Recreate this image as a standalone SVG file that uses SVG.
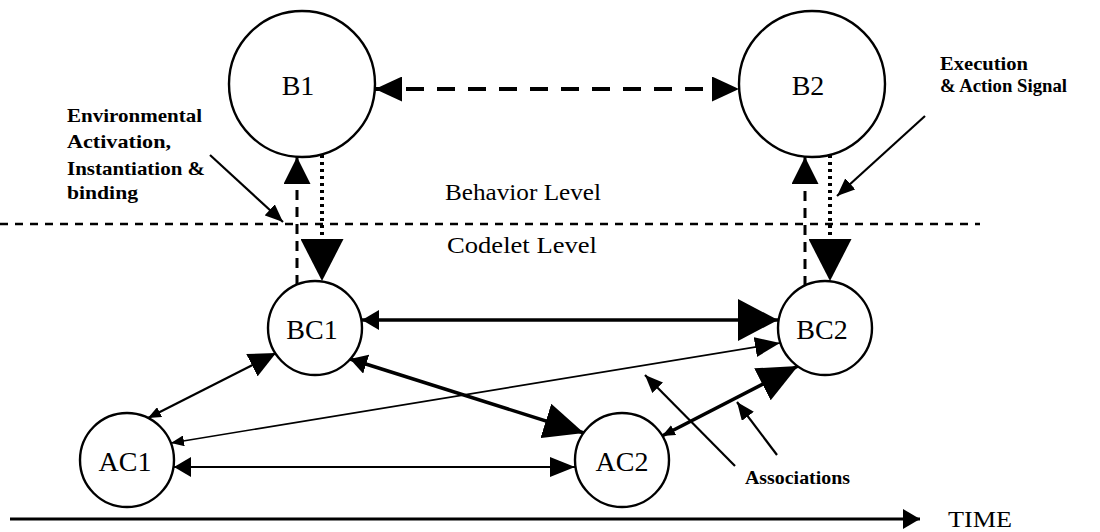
<svg xmlns="http://www.w3.org/2000/svg" width="1100" height="532" viewBox="0 0 1100 532">
  <style>
    .node { fill: #fff; stroke: #000; stroke-width: 2.4; }
    .lbl { font-family: "Liberation Serif", "Times New Roman", serif; font-size: 28px; fill: #000; text-anchor: middle; }
    .note { font-family: "Liberation Serif", "Times New Roman", serif; font-weight: bold; font-size: 19px; fill: #000; }
    .level { font-family: "Liberation Serif", "Times New Roman", serif; font-size: 23px; fill: #000; }
    .ln { fill: none; stroke: #000; }
    .thick { stroke-width: 3.5; }
    .mid { stroke-width: 2.2; }
    .thin { stroke-width: 1.6; }
    .axis { stroke-width: 3; }
    .dash-b { stroke-width: 4; stroke-dasharray: 18 13; }
    .dash-v { stroke-width: 3; stroke-dasharray: 10 7; }
    .dot-v { stroke-width: 4; stroke-dasharray: 3 4; }
    .dash-h { stroke-width: 2.5; stroke-dasharray: 8 7; }
  </style>
  <defs>
    <!-- filled arrowheads in several sizes; each works as start or end -->
    <marker id="hxs" markerUnits="userSpaceOnUse" markerWidth="13" markerHeight="11" refX="13" refY="5.5" orient="auto-start-reverse"><path d="M0,0 L13,5.5 L0,11z"/></marker>
    <marker id="hs" markerUnits="userSpaceOnUse" markerWidth="17" markerHeight="20" refX="17" refY="10" orient="auto-start-reverse"><path d="M0,0 L17,10 L0,20z"/></marker>
    <marker id="hm" markerUnits="userSpaceOnUse" markerWidth="25" markerHeight="20" refX="25" refY="10" orient="auto-start-reverse"><path d="M0,0 L25,10 L0,20z"/></marker>
    <marker id="hb" markerUnits="userSpaceOnUse" markerWidth="27" markerHeight="25" refX="27" refY="12.5" orient="auto-start-reverse"><path d="M0,0 L27,12.5 L0,25z"/></marker>
    <marker id="hup" markerUnits="userSpaceOnUse" markerWidth="27" markerHeight="27" refX="27" refY="13.5" orient="auto-start-reverse"><path d="M0,0 L27,13.5 L0,27z"/></marker>
    <marker id="hl" markerUnits="userSpaceOnUse" markerWidth="40" markerHeight="36" refX="40" refY="18" orient="auto-start-reverse"><path d="M0,0 L40,18 L0,36z"/></marker>
    <marker id="hxl" markerUnits="userSpaceOnUse" markerWidth="40" markerHeight="42" refX="40" refY="21" orient="auto-start-reverse"><path d="M0,0 L40,21 L0,42z"/></marker>
    <marker id="hdn" markerUnits="userSpaceOnUse" markerWidth="42" markerHeight="43" refX="42" refY="21.5" orient="auto-start-reverse"><path d="M0,0 L42,21.5 L0,43z"/></marker>
    <marker id="hp" markerUnits="userSpaceOnUse" markerWidth="18" markerHeight="15" refX="18" refY="7.5" orient="auto-start-reverse"><path d="M0,0 L18,7.5 L0,15z"/></marker>
  </defs>

  <!-- level separator -->
  <line class="ln dash-h" x1="0" y1="224" x2="980" y2="224"/>
  <text class="level" x="445" y="200" textLength="156" lengthAdjust="spacingAndGlyphs">Behavior Level</text>
  <text class="level" x="447" y="253" textLength="150" lengthAdjust="spacingAndGlyphs">Codelet Level</text>

  <!-- time axis -->
  <line class="ln axis" x1="10" y1="519" x2="920" y2="519" marker-end="url(#hs)"/>
  <text class="level" x="948" y="527" textLength="64" lengthAdjust="spacingAndGlyphs">TIME</text>

  <g id="connectors">
    <!-- behavior to behavior -->
    <line class="ln dash-b" x1="375" y1="89" x2="739" y2="89" marker-start="url(#hb)" marker-end="url(#hb)"/>
    <!-- B1 / BC1 vertical links -->
    <line class="ln dash-v" x1="297" y1="285" x2="297" y2="157" marker-end="url(#hup)"/>
    <line class="ln dot-v" x1="322" y1="155" x2="322" y2="281" marker-end="url(#hdn)"/>
    <!-- B2 / BC2 vertical links -->
    <line class="ln dash-v" x1="805" y1="286" x2="805" y2="157" marker-end="url(#hup)"/>
    <line class="ln dot-v" x1="830" y1="155" x2="830" y2="281" marker-end="url(#hdn)"/>
    <!-- codelet links -->
    <line class="ln thick" x1="362" y1="320" x2="778" y2="320" marker-start="url(#hs)" marker-end="url(#hxl)"/>
    <line class="ln mid" x1="174" y1="467" x2="575" y2="467" marker-start="url(#hs)" marker-end="url(#hm)"/>
    <line class="ln mid" x1="148" y1="418" x2="276" y2="353" marker-start="url(#hxs)" marker-end="url(#hb)"/>
    <line class="ln thick" x1="350" y1="359" x2="584" y2="433" marker-start="url(#hs)" marker-end="url(#hl)"/>
    <line class="ln thin" x1="171" y1="443" x2="780" y2="343" marker-start="url(#hxs)" marker-end="url(#hm)"/>
    <line class="ln thick" x1="662" y1="436" x2="798" y2="366" marker-start="url(#hxs)" marker-end="url(#hl)"/>
    <!-- annotation pointers -->
    <line class="ln mid" x1="210" y1="155" x2="283" y2="222" marker-end="url(#hp)"/>
    <line class="ln mid" x1="925" y1="116" x2="837" y2="196" marker-end="url(#hp)"/>
    <line class="ln mid" x1="735" y1="466" x2="645" y2="375" marker-end="url(#hp)"/>
    <line class="ln mid" x1="777" y1="455" x2="737" y2="402" marker-end="url(#hp)"/>
  </g>

  <g id="B1"><circle class="node" cx="302" cy="84" r="73"/><text class="lbl" x="298" y="95">B1</text></g>
  <g id="B2"><circle class="node" cx="812" cy="84" r="73"/><text class="lbl" x="808" y="95">B2</text></g>
  <g id="BC1"><circle class="node" cx="315" cy="328" r="47"/><text class="lbl" x="312" y="339">BC1</text></g>
  <g id="BC2"><circle class="node" cx="825" cy="328" r="47"/><text class="lbl" x="822" y="339">BC2</text></g>
  <g id="AC1"><circle class="node" cx="127" cy="460" r="47"/><text class="lbl" x="125" y="471">AC1</text></g>
  <g id="AC2"><circle class="node" cx="622" cy="460" r="47"/><text class="lbl" x="622" y="471">AC2</text></g>

  <!-- annotations -->
  <text class="note" x="67" y="122" textLength="135" lengthAdjust="spacingAndGlyphs">Environmental</text>
  <text class="note" x="67" y="148" textLength="104" lengthAdjust="spacingAndGlyphs">Activation,</text>
  <text class="note" x="67" y="175" textLength="138" lengthAdjust="spacingAndGlyphs">Instantiation &amp;</text>
  <text class="note" x="67" y="199" textLength="71" lengthAdjust="spacingAndGlyphs">binding</text>
  <text class="note" x="940" y="70" textLength="88" lengthAdjust="spacingAndGlyphs">Execution</text>
  <text class="note" x="940" y="92" textLength="127" lengthAdjust="spacingAndGlyphs">&amp; Action Signal</text>
  <text class="note" x="745" y="484" font-size="17" textLength="105" lengthAdjust="spacingAndGlyphs">Associations</text>
</svg>
